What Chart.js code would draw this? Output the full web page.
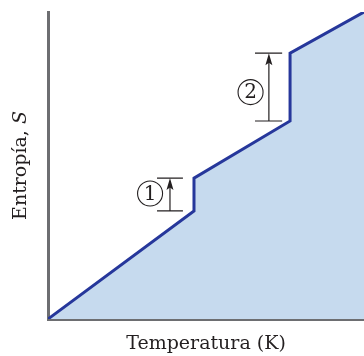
<!DOCTYPE html>
<html>
<head>
    <meta charset="UTF-8">
    <title>Entropía vs temperatura</title>
    <script src="https://cdn.jsdelivr.net/npm/chart.js"></script>
    <style>
        html, body { margin: 0; padding: 0; background: #fff; }
        #wrap { width: 364px; height: 356px; position: relative; }
    </style>
</head>
<body>
<div id="wrap"><canvas id="entropyChart"></canvas></div>

<script>
    // Curva S(T): temperatura y entropía (unidades arbitrarias, 0-100)
    var temperature = [0, 46.2, 46.2, 76.6, 76.6, 100];
    var entropy = [0, 35.2, 45.9, 64.5, 86.6, 100];

    // Saltos marcados (1) fusión, (2) vaporización
    var jumpLabels = ['1', '2'];
    var jumpFrom = [35.2, 64.5];
    var jumpTo = [45.9, 86.6];
    var bracketLeft = [34.5, 65.5];
    var bracketRight = [42.7, 74.1];
    var arrowX = [38.6, 69.9];
    var circleX = [32.3, 64.1];
    var circleY = [40.9, 73.9];

    var xTitle = 'Temperatura (K)';
    var yTitle = 'Entropía, ';
    var yTitleItalic = 'S';

    var points = temperature.map(function (t, i) {
        return { x: t, y: entropy[i] };
    });

    var serif = '"DejaVu Serif", "Liberation Serif", serif';

    // Dibuja flechas, números en círculo y títulos de ejes
    var annotations = {
        id: 'annotations',
        afterDraw: function (chart) {
            var ctx = chart.ctx;
            var xs = chart.scales.x;
            var ys = chart.scales.y;
            ctx.save();
            for (var i = 0; i < jumpLabels.length; i++) {
                var yb = ys.getPixelForValue(jumpFrom[i]);
                var yt = ys.getPixelForValue(jumpTo[i]);
                var xl = xs.getPixelForValue(bracketLeft[i]);
                var xr = xs.getPixelForValue(bracketRight[i]);
                var xa = xs.getPixelForValue(arrowX[i]);

                ctx.strokeStyle = '#231f20';
                ctx.lineWidth = 1.2;
                ctx.beginPath();
                ctx.moveTo(xl, yb); ctx.lineTo(xr, yb);
                ctx.moveTo(xl, yt); ctx.lineTo(xr, yt);
                ctx.moveTo(xa, yb); ctx.lineTo(xa, yt + 8);
                ctx.stroke();

                ctx.fillStyle = '#231f20';
                ctx.beginPath();
                ctx.moveTo(xa, yt);
                ctx.lineTo(xa - 3.5, yt + 12);
                ctx.lineTo(xa, yt + 9.5);
                ctx.lineTo(xa + 3.5, yt + 12);
                ctx.closePath();
                ctx.fill();

                var cx = xs.getPixelForValue(circleX[i]);
                var cy = ys.getPixelForValue(circleY[i]);
                ctx.lineWidth = 1.1;
                ctx.beginPath();
                ctx.arc(cx, cy, 12.5, 0, Math.PI * 2);
                ctx.stroke();
                ctx.font = '20px ' + serif;
                ctx.textAlign = 'center';
                ctx.textBaseline = 'middle';
                ctx.fillText(jumpLabels[i], cx, cy + 1);
            }

            ctx.fillStyle = '#231f20';
            ctx.font = '19px ' + serif;
            ctx.textAlign = 'center';
            ctx.textBaseline = 'alphabetic';
            ctx.fillText(xTitle, (xs.left + xs.right) / 2, 349);

            ctx.translate(26, (ys.top + ys.bottom) / 2);
            ctx.rotate(-Math.PI / 2);
            ctx.font = '19px ' + serif;
            var w1 = ctx.measureText(yTitle).width;
            ctx.font = 'italic 19px ' + serif;
            var w2 = ctx.measureText(yTitleItalic).width;
            ctx.textAlign = 'left';
            ctx.font = '19px ' + serif;
            ctx.fillText(yTitle, -(w1 + w2) / 2, 0);
            ctx.font = 'italic 19px ' + serif;
            ctx.fillText(yTitleItalic, -(w1 + w2) / 2 + w1, 0);
            ctx.restore();
        }
    };

    new Chart('entropyChart', {
        type: 'scatter',
        data: {
            datasets: [{
                data: points,
                showLine: true,
                fill: 'origin',
                borderColor: '#26379b',
                backgroundColor: '#c6daee',
                borderWidth: 3,
                pointRadius: 0,
                tension: 0
            }]
        },
        options: {
            responsive: true,
            maintainAspectRatio: false,
            animation: false,
            layout: { padding: { top: 12, right: 0, bottom: 0, left: 0 } },
            plugins: { legend: { display: false }, tooltip: { enabled: false } },
            scales: {
                x: {
                    type: 'linear',
                    min: 0,
                    max: 100,
                    z: 1,
                    ticks: { display: false },
                    grid: { display: false },
                    border: { display: true, color: '#6d6e71', width: 3 },
                    afterFit: function (scale) { scale.height = 37; }
                },
                y: {
                    type: 'linear',
                    min: 0,
                    max: 100,
                    z: 1,
                    ticks: { display: false },
                    grid: { display: false },
                    border: { display: true, color: '#6d6e71', width: 3 },
                    afterFit: function (scale) { scale.width = 48; }
                }
            }
        },
        plugins: [annotations]
    });
</script>
</body>
</html>
